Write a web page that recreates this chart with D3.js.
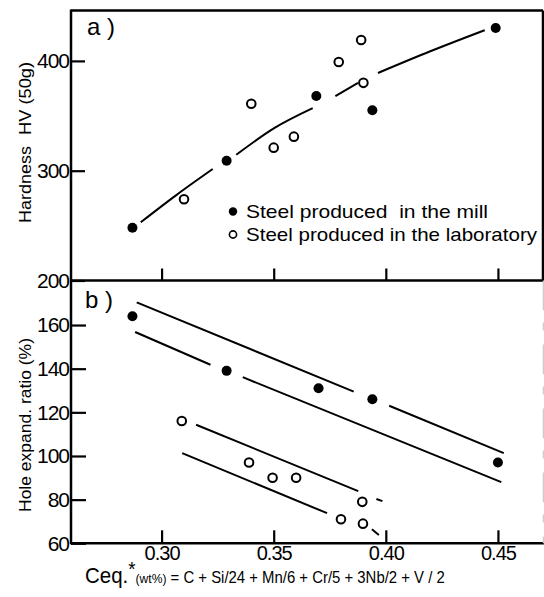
<!DOCTYPE html>
<html><head><meta charset="utf-8">
<script src="https://cdn.jsdelivr.net/npm/d3@7"></script>
<style>body{margin:0;background:#fff} svg{display:block} text{white-space:pre}</style>
</head><body>
<svg id="c" width="544" height="597"></svg>
<script>
// ---------- data ----------
const xTicks = [0.30, 0.35, 0.40, 0.45];
const xTickLabels = ["0.30", "0.35", "0.40", "0.45"];
const hvTicks = [200, 300, 400];
const holeTicks = [60, 80, 100, 120, 140, 160];

// panel a: hardness
const millCeqA = [0.287, 0.329, 0.369, 0.394, 0.449];
const millHV   = [248, 309, 368, 355, 430];
const labCeqA  = [0.310, 0.340, 0.350, 0.359, 0.379, 0.389, 0.390];
const labHV    = [274, 361, 321, 331, 399, 419, 380];

const hvFitCeq = [[0.2907, 0.3067, 0.3228], [0.3333, 0.3504, 0.3674], [0.3775, 0.3876], [0.3965, 0.4201, 0.4441]];
const hvFitVal = [[253, 278, 301.5], [314.5, 339, 357], [368, 380], [389, 409, 428]];

// panel b: hole expansion ratio
const millCeqB = [0.287, 0.329, 0.370, 0.394, 0.450];
const millHole = [164, 139, 131, 126, 97];
const labCeqB  = [0.309, 0.339, 0.3495, 0.360, 0.380, 0.3895, 0.3898];
const labHole  = [116, 97, 90, 90, 71, 79, 69];

// band lines (segments)
const bandCeq = [
  [0.2889, 0.3857], [0.4015, 0.4526],       // mill upper
  [0.2882, 0.3218], [0.3362, 0.4515],       // mill lower
  [0.3154, 0.3877], [0.3958, 0.3985],       // lab upper
  [0.3092, 0.3738], [0.3938, 0.3969]        // lab lower
];
const bandVal = [
  [170.4, 129.5], [123, 101.3],
  [156.8, 141.8], [136.1, 88],
  [114.3, 83.9], [80.3, 79.3],
  [101.3, 73.8], [66.4, 63.8]
];

// ---------- layout ----------
const FONT = "'Liberation Sans', Arial, sans-serif";
const svg = d3.select("#c");
const L = 71, R = 543, TA = 10.5, MID = 280.5, BOT = 543.3;

const x  = d3.scaleLinear().domain([0.2596, 0.4701]).range([L, R]);
const yA = d3.scaleLinear().domain([200, 445.9]).range([MID, TA]);
const yB = d3.scaleLinear().domain([60, 180.4]).range([BOT, MID]);

// axes
function styleAxis(g, fs) {
  g.select(".domain").remove();
  g.selectAll("line").attr("stroke", "#000").attr("stroke-width", 2.2);
  g.selectAll("text").attr("fill", "#000").style("font-family", FONT)
   .style("font-size", fs + "px").style("letter-spacing", "-1px");
}
svg.append("g").attr("transform", `translate(${L},0)`)
  .call(d3.axisLeft(yA).tickValues(hvTicks).tickSizeInner(-14).tickSizeOuter(0).tickPadding(2).tickFormat(d3.format("d")))
  .call(g => styleAxis(g, 21));
svg.append("g").attr("transform", `translate(${L},0)`)
  .call(d3.axisLeft(yB).tickValues(holeTicks).tickSizeInner(-15).tickSizeOuter(0).tickPadding(2).tickFormat(d3.format("d")))
  .call(g => styleAxis(g, 21));
svg.append("g").attr("transform", `translate(0,${MID})`)
  .call(d3.axisBottom(x).tickValues(xTicks).tickSizeInner(-12).tickSizeOuter(0).tickFormat(""))
  .call(g => styleAxis(g, 20));
svg.append("g").attr("transform", `translate(0,${BOT})`)
  .call(d3.axisBottom(x).tickValues(xTicks).tickSizeInner(-13).tickSizeOuter(0).tickPadding(2)
        .tickFormat((d, i) => xTickLabels[i]))
  .call(g => styleAxis(g, 20));

// frame
const fr = svg.append("g").attr("stroke", "#000").attr("stroke-width", 2.5).attr("fill", "none");
fr.append("line").attr("x1", L).attr("x2", R).attr("y1", TA).attr("y2", TA);
fr.append("line").attr("x1", L).attr("x2", L).attr("y1", TA - 1).attr("y2", BOT + 1);
fr.append("line").attr("x1", R).attr("x2", R).attr("y1", TA).attr("y2", MID);
fr.append("line").attr("x1", L).attr("x2", 544).attr("y1", MID).attr("y2", MID);
fr.append("line").attr("x1", L).attr("x2", 544).attr("y1", BOT).attr("y2", BOT);
svg.append("line").attr("x1", R + 0.5).attr("x2", R + 0.5).attr("y1", MID).attr("y2", BOT)
  .attr("stroke", "#ccc").attr("stroke-width", 1.5).attr("stroke-dasharray", "30,12,8,14");

// fitted lines
const lineA = d3.line().x(d => x(d[0])).y(d => yA(d[1])).curve(d3.curveNatural);
hvFitCeq.forEach((seg, i) => {
  svg.append("path").datum(seg.map((c, j) => [c, hvFitVal[i][j]]))
    .attr("d", lineA).attr("fill", "none").attr("stroke", "#000").attr("stroke-width", 2);
});
const lineB = d3.line().x(d => x(d[0])).y(d => yB(d[1]));
bandCeq.forEach((seg, i) => {
  svg.append("path").datum(seg.map((c, j) => [c, bandVal[i][j]]))
    .attr("d", lineB).attr("fill", "none").attr("stroke", "#000").attr("stroke-width", 2);
});

// markers
function filled(xs, ys, yScale) {
  svg.append("g").selectAll("circle").data(xs).join("circle")
    .attr("cx", d => x(d)).attr("cy", (d, i) => yScale(ys[i])).attr("r", 5).attr("fill", "#000");
}
function open(xs, ys, yScale) {
  svg.append("g").selectAll("circle").data(xs).join("circle")
    .attr("cx", d => x(d)).attr("cy", (d, i) => yScale(ys[i])).attr("r", 4.3)
    .attr("fill", "#fff").attr("stroke", "#000").attr("stroke-width", 2);
}
filled(millCeqA, millHV, yA);
open(labCeqA, labHV, yA);
filled(millCeqB, millHole, yB);
open(labCeqB, labHole, yB);

// legend
svg.append("circle").attr("cx", 233).attr("cy", 211.5).attr("r", 4.2).attr("fill", "#000");
svg.append("circle").attr("cx", 233).attr("cy", 234.5).attr("r", 3.6).attr("fill", "#fff")
  .attr("stroke", "#000").attr("stroke-width", 1.6);
const txt = (s, xx, yy, fs, len) => {
  const t = svg.append("text").attr("x", xx).attr("y", yy).text(s)
    .style("font-family", FONT).style("font-size", fs + "px").attr("fill", "#000");
  if (len) t.attr("textLength", len).attr("lengthAdjust", "spacingAndGlyphs");
  return t;
};
txt("Steel produced  in the mill", 246, 218.3, 18.5, 242);
txt("Steel produced in the laboratory", 246, 240.7, 18.5, 291);

// panel labels
txt("a )", 87, 35, 24);
txt("b )", 85, 308, 24);

// axis titles
const vtxt = (s, yy, len) => svg.append("text").attr("transform", `translate(31,${yy}) rotate(-90)`)
  .attr("textLength", len).attr("lengthAdjust", "spacingAndGlyphs")
  .style("font-family", FONT).style("font-size", "17px").attr("fill", "#000").text(s);
vtxt("Hardness", 223, 77);
vtxt("HV (50g)", 135, 73);
vtxt("Hole expand. ratio (%)", 512, 174);

const xt = svg.append("text").style("font-family", FONT).attr("fill", "#000");
xt.append("tspan").style("font-size", "22px").text("Ceq.");
xt.append("tspan").style("font-size", "20px").attr("dy", -7).text("*");
xt.append("tspan").style("font-size", "13px").attr("dy", 7).text("(wt%)");
xt.append("tspan").style("font-size", "16px").text(" = C + Si/24 + Mn/6 + Cr/5 + 3Nb/2 + V / 2");
const w = xt.node().getComputedTextLength();
xt.attr("transform", `translate(85,583) scale(${360 / w},1)`);
</script>
</body></html>
